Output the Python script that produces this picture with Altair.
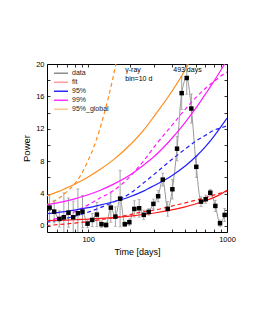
import altair as alt
import pandas as pd
import numpy as np

FONT = "Liberation Sans"

# ---- data ----
PERIOD = [52.7, 56.9, 61.9, 66.8, 72.1, 78.0, 84.3, 91.0, 98.9, 107.0, 115.5, 124.7, 134.6,
          145.6, 157.0, 169.8, 183.5, 198.0, 215.0, 232.9, 251.5, 273.0, 295.0, 319.0, 344.6,
          374.0, 404.0, 436.5, 471.6, 512.6, 553.7, 601.0, 650.0, 702.0, 758.0, 824.0, 891.0, 962.0]
POWER = [2.26, 1.77, 0.86, 1.07, 1.64, 1.07, 1.57, 1.77, 0.28, 0.74, 1.40, 0.21, 0.12,
         2.26, 1.15, 3.37, 0.21, 0.46, 2.10, 2.18, 1.36, 1.73, 2.72, 3.67, 5.72,
         2.10, 4.53, 9.54, 16.4, 18.27, 14.5, 7.3, 3.0, 3.3, 4.1, 2.47, 0.33, 1.36]
ERR = [1.6, 1.4, 1.0, 3.0, 1.8, 2.0, 3.0, 2.0, 0.5, 0.8, 1.5, 0.4, 0.3,
       1.8, 1.2, 3.5, 0.3, 0.4, 1.0, 1.1, 0.6, 0.4, 0.6, 0.7, 0.8,
       0.9, 1.2, 1.5, 2.0, 2.0, 1.8, 1.3, 0.6, 0.5, 0.4, 0.7, 0.4, 0.8]

T_CURVE = [50, 60, 70, 80, 90, 100, 120, 150, 200, 250, 300, 400, 500, 600, 700, 800, 900, 1000]
FIT_SOLID = [0.65, 0.68, 0.72, 0.76, 0.80, 0.84, 0.92, 1.03, 1.22, 1.41, 1.60, 1.98, 2.36, 2.74, 3.12, 3.50, 3.92, 4.40]
FIT_DASH = [0.05, 0.15, 0.25, 0.35, 0.45, 0.55, 0.75, 1.00, 1.40, 1.75, 1.95, 2.45, 2.85, 3.20, 3.50, 3.80, 4.05, 4.30]
C95_SOLID = [1.50, 1.65, 1.80, 1.95, 2.10, 2.25, 2.55, 2.95, 3.60, 4.30, 5.00, 6.20, 7.40, 8.60, 9.80, 11.0, 12.2, 13.3]
C95_DASH = [0.45, 0.70, 0.95, 1.20, 1.45, 1.70, 2.20, 2.90, 4.00, 5.30, 6.40, 8.20, 9.50, 10.5, 11.2, 11.8, 12.1, 12.35]
C99_SOLID = [2.60, 2.85, 3.10, 3.35, 3.60, 3.85, 4.35, 5.10, 6.30, 7.50, 8.60, 10.8, 12.8, 14.6, 16.3, 17.8, 19.2, 20.5]
C99_DASH = [0.60, 0.95, 1.35, 1.75, 2.20, 2.60, 3.40, 4.30, 6.10, 8.00, 9.80, 12.4, 14.4, 15.9, 17.0, 17.8, 18.5, 19.0]
T_GLOB_SOLID = [50, 60, 70, 80, 90, 100, 120, 150, 200, 250, 300, 400, 500, 600]
GLOB_SOLID = [3.70, 4.20, 4.70, 5.15, 5.60, 6.05, 6.90, 8.10, 10.0, 11.8, 13.6, 16.6, 19.3, 22.0]
T_GLOB_DASH = [50, 60, 70, 80, 90, 100, 110, 120, 130, 140, 150, 160, 170]
GLOB_DASH = [2.6, 3.3, 4.2, 5.2, 6.5, 8.1, 9.8, 11.7, 13.8, 15.9, 18.1, 20.4, 22.8]

SERIES = ["data", "fit", "95%", "99%", "95%_global"]
LEGEND_COLORS = ["#8c8c8c", "#ffa0a0", "#2a2aff", "#ff33ff", "#ffc890"]

NOTE_T = [185, 185, 410]
NOTE_V = [19.25, 18.2, 19.25]
NOTE_TEXT = ["γ-ray", "bin=10 d", "493 days"]

X_TICKS = [60, 70, 80, 90, 100, 200, 300, 400, 500, 600, 700, 800, 900, 1000]
Y_TICKS = [0, 2, 4, 6, 8, 10, 12, 14, 16, 18, 20]

# ---- tables ----
pts = pd.DataFrame({"t": PERIOD, "p": POWER, "e": ERR})
pts["lo"] = pts["p"] - pts["e"]
pts["hi"] = pts["p"] + pts["e"]
notes = pd.DataFrame({"t": NOTE_T, "v": NOTE_V, "txt": NOTE_TEXT})
leg = pd.DataFrame({"series": SERIES, "t": [np.nan] * 5, "v": [np.nan] * 5})

xs = alt.Scale(type="log", domain=[50.5, 1000], nice=False)
ys = alt.Scale(domain=[-0.75, 20], nice=False, zero=False)

common_axis = dict(domain=False, grid=False, tickSize=3, offset=-3, tickColor="black",
                   tickWidth=0.8, labelFont=FONT, labelColor="black", labelFlush=False,
                   labelOverlap=False, titleFont=FONT, titleColor="black",
                   titleFontWeight="normal")

x_bottom = alt.Axis(orient="bottom", values=X_TICKS, format="d",
                    labelExpr="datum.value == 100 || datum.value == 1000 ? datum.label : ''",
                    labelFontSize=7.5, labelPadding=3, title="Time [days]",
                    titleFontSize=9, titlePadding=5, **common_axis)
y_left = alt.Axis(orient="left", values=Y_TICKS, format="d",
                  labelExpr="datum.value % 4 == 0 ? datum.label : ''",
                  labelFontSize=7.5, labelPadding=3, title="Power",
                  titleFontSize=9.5, titlePadding=4, **common_axis)
x_top = alt.Axis(orient="top", values=X_TICKS, labels=False, title=None, **common_axis)
y_right = alt.Axis(orient="right", values=Y_TICKS, labels=False, title=None, **common_axis)

GRAY = "#8c8c8c"

err = alt.Chart(pts).mark_rule(color=GRAY, strokeWidth=0.8, clip=True).encode(
    x=alt.X("t:Q", scale=xs, axis=x_bottom),
    y=alt.Y("lo:Q", scale=ys, axis=y_left),
    y2="hi:Q",
)
dline = alt.Chart(pts).mark_line(color=GRAY, strokeWidth=0.9, interpolate="monotone", clip=True).encode(
    x=alt.X("t:Q", scale=xs, axis=x_top),
    y=alt.Y("p:Q", scale=ys, axis=y_right),
)
cap_lo = alt.Chart(pts).mark_tick(color=GRAY, orient="horizontal", size=3, thickness=0.8, clip=True).encode(
    x=alt.X("t:Q", scale=xs, axis=None), y=alt.Y("lo:Q", scale=ys, axis=None))
cap_hi = alt.Chart(pts).mark_tick(color=GRAY, orient="horizontal", size=3, thickness=0.8, clip=True).encode(
    x=alt.X("t:Q", scale=xs, axis=None), y=alt.Y("hi:Q", scale=ys, axis=None))


def curve(tv, vv, color, dashed):
    df = pd.DataFrame({"t": tv, "v": vv})
    kw = dict(color=color, strokeWidth=1.2, interpolate="monotone", clip=True)
    if dashed:
        kw["strokeDash"] = [4, 3]
    return alt.Chart(df).mark_line(**kw).encode(
        x=alt.X("t:Q", scale=xs, axis=None), y=alt.Y("v:Q", scale=ys, axis=None))


curves = [
    curve(T_GLOB_DASH, GLOB_DASH, "#ff8c1a", True),
    curve(T_GLOB_SOLID, GLOB_SOLID, "#ff8c1a", False),
    curve(T_CURVE, C99_DASH, "#ff1aff", True),
    curve(T_CURVE, C99_SOLID, "#ff1aff", False),
    curve(T_CURVE, C95_DASH, "#1f1fff", True),
    curve(T_CURVE, C95_SOLID, "#1f1fff", False),
    curve(T_CURVE, FIT_DASH, "#ff1a1a", True),
    curve(T_CURVE, FIT_SOLID, "#ff1a1a", False),
]

marks = alt.Chart(pts).mark_square(color="black", size=20, opacity=1, clip=True).encode(
    x=alt.X("t:Q", scale=xs, axis=None), y=alt.Y("p:Q", scale=ys, axis=None))

text = alt.Chart(notes).mark_text(font=FONT, fontSize=7, align="left", baseline="middle",
                                  color="black").encode(
    x=alt.X("t:Q", scale=xs, axis=None), y=alt.Y("v:Q", scale=ys, axis=None), text="txt:N")

legend_layer = alt.Chart(leg).mark_line(strokeWidth=1.5).encode(
    x=alt.X("t:Q", scale=xs, axis=None),
    y=alt.Y("v:Q", scale=ys, axis=None),
    color=alt.Color("series:N", scale=alt.Scale(domain=SERIES, range=LEGEND_COLORS),
                    legend=alt.Legend(orient="none", legendX=6, legendY=5, title=None,
                                      symbolType="stroke", symbolSize=196, symbolStrokeWidth=1.6,
                                      labelFont=FONT, labelFontSize=7, labelColor="#222",
                                      labelOffset=3, rowPadding=0, clipHeight=8.5, padding=0)),
)

chart = alt.layer(err, dline, cap_lo, cap_hi, *curves, marks, text, legend_layer).resolve_axis(
    x="independent", y="independent"
).properties(
    width=180, height=168, autosize="none",
    padding={"left": 39, "top": 56, "right": 20, "bottom": 60},
).configure_view(stroke="black", strokeWidth=1)

chart.save("out.html", embed_options={"renderer": "svg", "actions": False})
